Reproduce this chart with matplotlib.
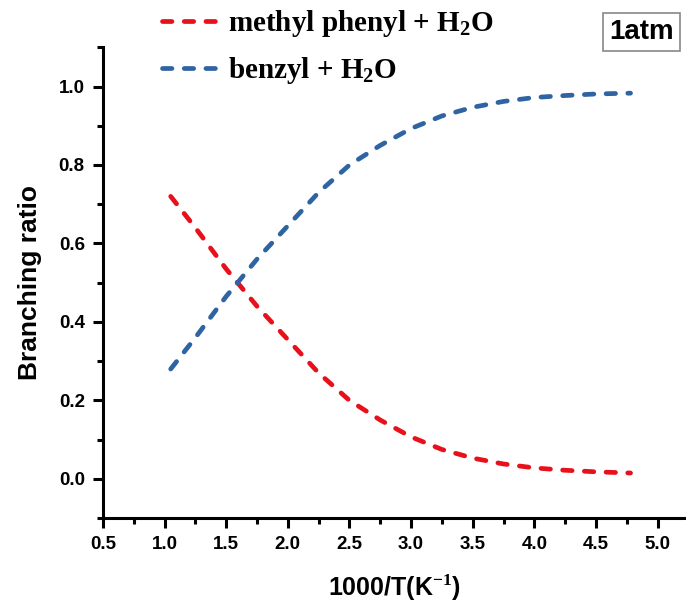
import numpy as np
import matplotlib.pyplot as plt
from matplotlib.ticker import MultipleLocator

# values
inv_T = [1.05, 1.25, 1.5, 1.75, 2.0, 2.25, 2.5, 2.75, 3.0, 3.25, 3.5, 3.75, 4.0, 4.25, 4.5, 4.78]
methyl_phenyl = [0.72, 0.64, 0.535, 0.44, 0.355, 0.27, 0.20, 0.15, 0.107, 0.075, 0.053, 0.038, 0.028, 0.022, 0.018, 0.015]
benzyl = [0.28, 0.36, 0.465, 0.56, 0.645, 0.73, 0.80, 0.85, 0.893, 0.925, 0.947, 0.962, 0.972, 0.977, 0.981, 0.983]

labels = ['methyl phenyl + H$_\\mathbf{2}$O', 'benzyl + H$_\\mathbf{2}$O']
colors = ['#e8111b', '#2f64a3']

plt.rcParams['font.family'] = 'Liberation Sans'
plt.rcParams['mathtext.fontset'] = 'custom'
plt.rcParams['mathtext.bf'] = 'Liberation Serif:bold'
plt.rcParams['mathtext.rm'] = 'Liberation Serif:bold'

fig = plt.figure(figsize=(6.86, 6.06), dpi=100)
ax = fig.add_axes([0.150, 0.145, 0.850, 0.777])

dash = (0, (2.0, 2.6))
for y, c, lab in zip([methyl_phenyl, benzyl], colors, labels):
    ax.plot(inv_T, y, color=c, lw=3.4, linestyle=dash, dash_capstyle='round', label=lab)

ax.set_xlim(0.5, 5.23)
ax.set_ylim(-0.1, 1.1)
ax.xaxis.set_major_locator(MultipleLocator(0.5))
ax.xaxis.set_minor_locator(MultipleLocator(0.25))
ax.yaxis.set_major_locator(MultipleLocator(0.2))
ax.yaxis.set_minor_locator(MultipleLocator(0.1))
ax.set_yticks(np.arange(0, 1.01, 0.2))

for s in ['top', 'right']:
    ax.spines[s].set_visible(False)
for s in ['left', 'bottom']:
    ax.spines[s].set_linewidth(2.2)

ax.tick_params(which='major', direction='out', length=7, width=2.2, labelsize=13.5, pad=6)
ax.tick_params(which='minor', direction='out', length=4, width=2.2)
for t in ax.get_xticklabels() + ax.get_yticklabels():
    t.set_fontweight('bold')

ax.set_xlabel('1000/T(K$^{\\mathbf{-1}}$)', fontsize=18, fontweight='bold', labelpad=14)
ax.set_ylabel('Branching ratio', fontsize=19, fontweight='bold', labelpad=12)

leg = fig.legend(loc='upper left', bbox_to_anchor=(0.198, 1.03), frameon=False,
                 prop={'family': 'Liberation Serif', 'weight': 'bold', 'size': 21},
                 handlelength=1.9, handletextpad=0.35, labelspacing=0.55)

fig.text(0.935, 0.947, '1atm', ha='center', va='center', fontsize=20, fontweight='bold',
         bbox=dict(boxstyle='square,pad=0.22', facecolor='white', edgecolor='#888888', lw=1.2))

fig.savefig('out.png', dpi=100)
